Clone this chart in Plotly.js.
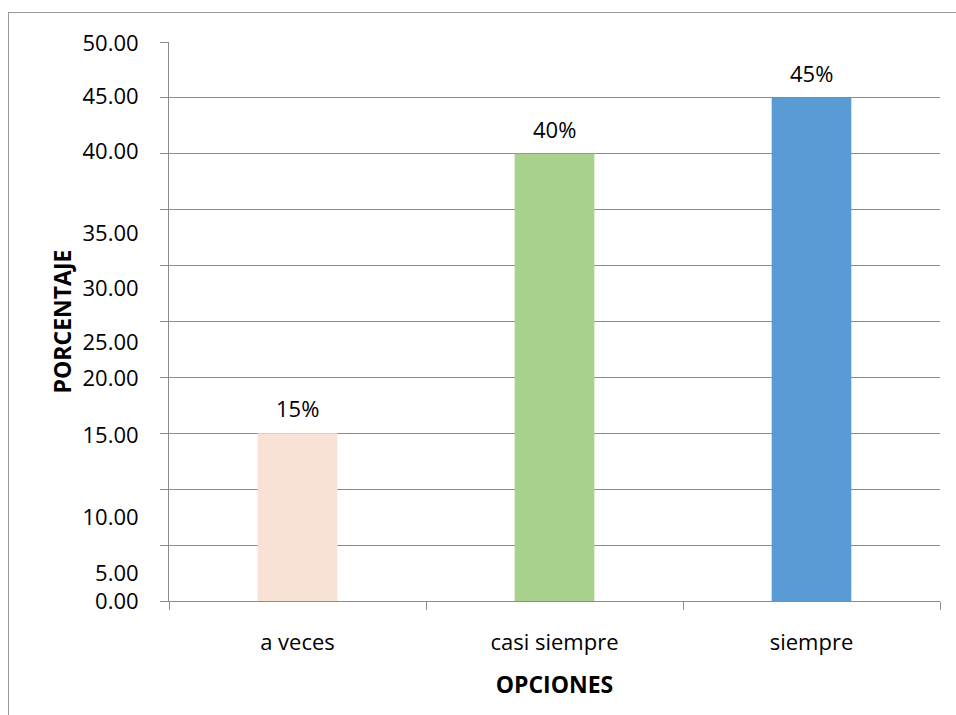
<!DOCTYPE html>
<html>
<head>
<meta charset="utf-8">
<script src="https://cdn.plot.ly/plotly-3.0.1.min.js"></script>
<style>
  html, body { margin: 0; padding: 0; background: #fff; overflow: hidden; }
  #wrap { position: relative; width: 956px; height: 715px; }
  #chart { position: absolute; left: 0; top: 0; width: 956px; height: 715px; }
  #frame { position: absolute; left: 8px; top: 12px; width: 980px; height: 740px;
           border: 1px solid #9a9a9a; pointer-events: none; }
</style>
</head>
<body>
<div id="wrap">
  <div id="chart"></div>
  <div id="frame"></div>
</div>
<script>
// Survey answers and their share in percent
const categories = ['a veces', 'casi siempre', 'siempre'];
const values = [15, 40, 45];
const barColors = ['#F8E2D5', '#A9D18E', '#5B9BD5'];

// Value-axis labels as they are laid out beside the axis
const tickLabelPos = [0, 2.5, 7.5, 14.8, 19.9, 23.1, 28.0, 32.9, 40.2, 45.1, 49.9];
const tickLabelText = ['0.00', '5.00', '10.00', '15.00', '20.00', '25.00',
                       '30.00', '35.00', '40.00', '45.00', '50.00'];

const FONT = 'Open Sans, Lato, DejaVu Sans, sans-serif';

const bars = {
  type: 'bar',
  x: categories,
  y: values,
  marker: { color: barColors, line: { width: 0 } },
  hoverinfo: 'x+y',
  showlegend: false
};

// carrier trace so the label axis is laid out
const labelAxisTrace = {
  type: 'scatter',
  mode: 'lines',
  x: categories,
  y: values,
  yaxis: 'y2',
  line: { width: 0, color: 'rgba(0,0,0,0)' },
  hoverinfo: 'skip',
  showlegend: false
};

const annotations = categories.map((c, i) => ({
  x: c,
  y: values[i],
  xref: 'x',
  yref: 'y',
  text: values[i] + '%',
  showarrow: false,
  yanchor: 'bottom',
  yshift: 8,
  font: { family: FONT, size: 22, color: '#000' }
}));

const layout = {
  width: 956,
  height: 715,
  margin: { l: 169, r: 16, t: 42, b: 114 },
  paper_bgcolor: '#fff',
  plot_bgcolor: '#fff',
  bargap: 0.69,
  font: { family: FONT, color: '#000' },
  xaxis: {
    type: 'category',
    tickson: 'boundaries',
    ticks: 'outside',
    ticklen: 8,
    tickcolor: '#8c8c8c',
    showline: true,
    linecolor: '#8c8c8c',
    linewidth: 1,
    showgrid: false,
    tickfont: { family: FONT, size: 22, color: '#000' },
    ticklabelstandoff: 22,
    title: { text: '<b>OPCIONES</b>', font: { family: FONT, size: 23, color: '#000' }, standoff: 21 },
    fixedrange: true
  },
  yaxis: {
    range: [0, 50],
    dtick: 5,
    tick0: 0,
    showgrid: true,
    gridcolor: '#8c8c8c',
    gridwidth: 1,
    zeroline: false,
    showline: true,
    linecolor: '#8c8c8c',
    ticks: 'outside',
    ticklen: 8,
    tickcolor: '#8c8c8c',
    showticklabels: false,
    fixedrange: true
  },
  yaxis2: {
    overlaying: 'y',
    side: 'left',
    range: [0, 50],
    tickmode: 'array',
    tickvals: tickLabelPos,
    ticktext: tickLabelText,
    showgrid: false,
    zeroline: false,
    showline: false,
    ticks: 'outside',
    ticklen: 25,
    tickcolor: 'rgba(0,0,0,0)',
    tickfont: { family: FONT, size: 22, color: '#000' },
    title: { text: '<b>PORCENTAJE</b>', font: { family: FONT, size: 23, color: '#000' }, standoff: 4 },
    fixedrange: true
  },
  annotations: annotations
};

Plotly.newPlot('chart', [bars, labelAxisTrace], layout, { displayModeBar: false, staticPlot: true });
</script>
</body>
</html>
